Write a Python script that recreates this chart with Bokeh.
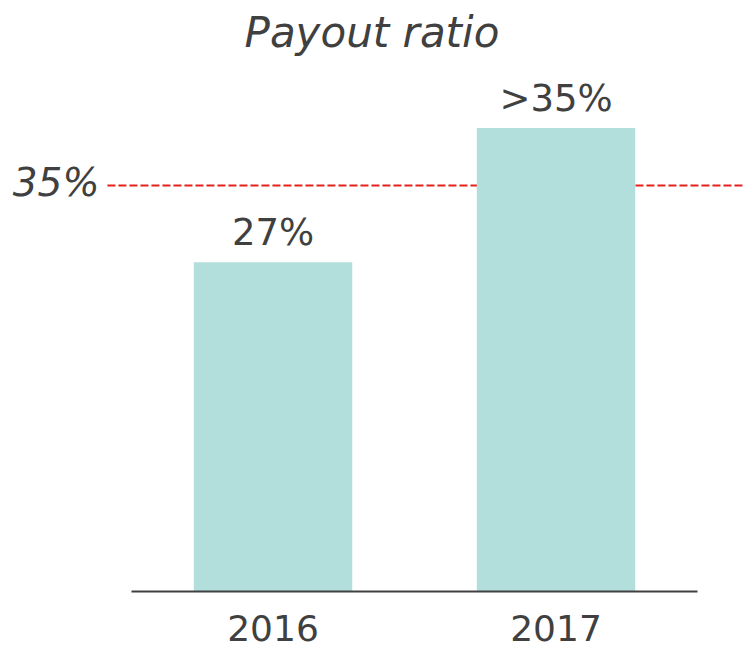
from bokeh.plotting import figure
from bokeh.models import LinearAxis, FixedTicker, Range1d, ColumnDataSource
from bokeh.core.properties import value
from bokeh.embed import file_html
from bokeh.resources import INLINE

# ---- data ----
years = ["2016", "2017"]
payout = [27, 38]                 # bar heights (2017 shown as ">35%")
payout_labels = ["27%", ">35%"]
target_level = 33.3               # where the dashed target line sits on the bar scale
target_label = "35%"

FONT = "DejaVu Sans"
TEXT = "#404040"
BAR = "#b2dfdb"
RED = "#e3231b"

xs = list(range(len(years)))
X0, X1 = -0.9629, 1.6625

p = figure(width=743, height=651, output_backend="svg", toolbar_location=None,
           x_axis_location=None, y_axis_location=None,
           x_range=Range1d(X0, X1), y_range=Range1d(-4.906, 43.46),
           min_border_left=0, min_border_right=0, min_border_top=0, min_border_bottom=0)
p.outline_line_color = None
p.grid.visible = False
p.background_fill_color = "white"

p.title.text = "Payout ratio"
p.title.align = "center"
p.title.text_font = FONT
p.title.text_font_style = "italic"
p.title.text_font_size = "42px"
p.title.text_color = TEXT
p.title.standoff = 10

# target line (drawn first so bars cover it)
p.segment(x0=[-0.585], x1=[X1], y0=[target_level], y1=[target_level],
          line_color=RED, line_width=2, line_dash="8 3")
p.text(x=[-0.585], y=[target_level], text=[target_label], x_offset=-8, y_offset=-3,
       text_align="right", text_baseline="middle", text_font=value(FONT),
       text_font_style="italic", text_font_size="39px", text_color=TEXT)

src = ColumnDataSource(dict(x=xs, top=payout, lab=payout_labels))
p.vbar(x="x", top="top", width=0.56, bottom=0, source=src, fill_color=BAR, line_color=None)
p.text(x="x", y="top", text="lab", source=src, y_offset=-8, text_align="center",
       text_baseline="bottom", text_font=value(FONT), text_font_size="37px", text_color=TEXT)

ax = LinearAxis(fixed_location=0)
ax.ticker = FixedTicker(ticks=xs)
ax.major_label_overrides = {i: y for i, y in zip(xs, years)}
ax.bounds = (-0.5, 1.5)
ax.axis_line_color = TEXT
ax.axis_line_width = 2
ax.major_tick_line_color = None
ax.minor_tick_line_color = None
ax.major_label_standoff = 17
ax.major_label_text_font = FONT
ax.major_label_text_font_size = "36px"
ax.major_label_text_color = TEXT
p.add_layout(ax, "below")

open("out.html", "w").write(file_html(p, INLINE))
